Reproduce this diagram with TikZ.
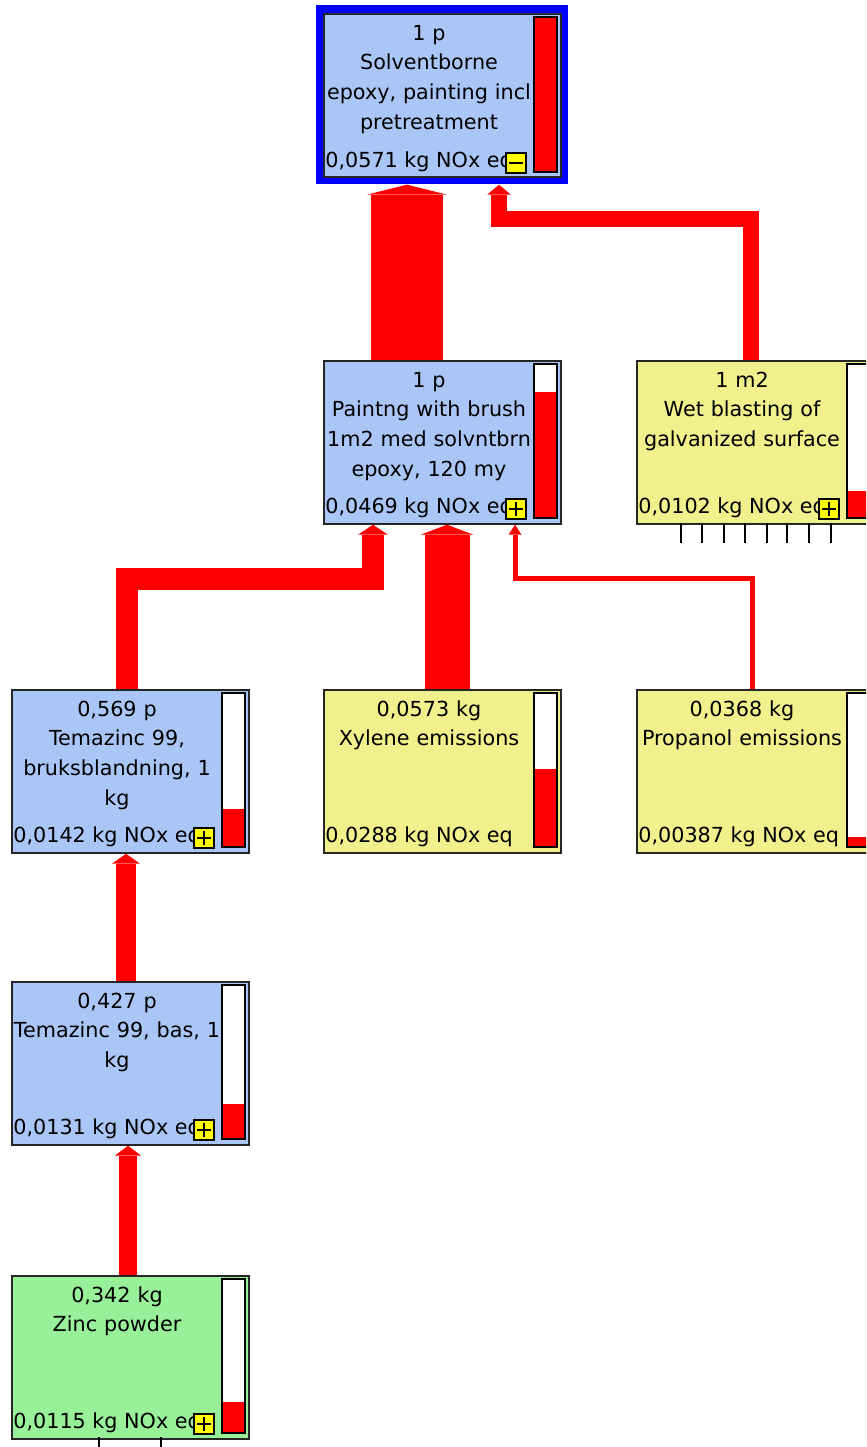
\documentclass[tikz,border=0pt]{standalone}
\usepackage{fontspec}
\setmainfont{DejaVu Sans}
\usetikzlibrary{arrows.meta}

\definecolor{procblue}{RGB}{170,198,246}
\definecolor{procyellow}{RGB}{240,240,140}
\definecolor{procgreen}{RGB}{152,240,152}
\definecolor{btnyellow}{RGB}{255,255,0}

\begin{document}
\begin{tikzpicture}[x=0.02cm, y=-0.02cm,
    proc/.style={draw=black!85, line width=0.035cm, minimum width=4.74cm, minimum height=3.26cm, inner sep=0pt, anchor=north west},
    ttl/.style={font=\fontsize{11.8}{17}\selectfont, align=center, text width=4.6cm, inner sep=0pt, anchor=base},
    score/.style={font=\fontsize{11.8}{17}\selectfont, inner sep=0pt, anchor=base west},
    scorebar/.style={draw=black, fill=white, line width=0.03cm},
    flow/.style={draw=red, -{Triangle[width=0.16cm 1, length=0.2cm 0, line width=0pt]}},
    btn/.style={draw=black, fill=btnyellow, line width=0.025cm, minimum size=0.4cm, inner sep=0pt},
    plusbtn/.style={btn, path picture={\draw[line width=0.9pt]
        ([xshift=1.7pt]path picture bounding box.west) -- ([xshift=-1.7pt]path picture bounding box.east)
        ([yshift=-1.7pt]path picture bounding box.north) -- ([yshift=1.7pt]path picture bounding box.south);}},
    minusbtn/.style={btn, path picture={\draw[line width=0.9pt]
        ([xshift=1.7pt]path picture bounding box.west) -- ([xshift=-1.7pt]path picture bounding box.east);}}
  ]
  \useasboundingbox (0,0) rectangle (866,1447);
  \clip (0,0) rectangle (866,1447);

  % process boxes
  \node[fill=blue, minimum width=5.04cm, minimum height=3.58cm, inner sep=0pt, anchor=north west] (solvframe) at (316,5) {};
  \node[proc, fill=procblue] (solv) at (323,13) {};
  \node[proc, fill=procblue] (paint) at (323,360) {};
  \node[proc, fill=procyellow] (wet) at (636,360) {};
  \node[proc, fill=procblue] (bruks) at (11,689) {};
  \node[proc, fill=procyellow] (xyl) at (323,689) {};
  \node[proc, fill=procyellow] (prop) at (636,689) {};
  \node[proc, fill=procblue] (bas) at (11,981) {};
  \node[proc, fill=procgreen] (zinc) at (11,1275) {};

  % names and scores
  \node[ttl] (solvname) at (429,40) {1 p\\Solventborne\\epoxy, painting incl\\pretreatment};
  \node[score] (solvscore) at (325,167) {0,0571 kg NOx eq};
  \node[ttl] (paintname) at (429,387) {1 p\\Paintng with brush\\1m2 med solvntbrn\\epoxy, 120 my};
  \node[score] (paintscore) at (325,513) {0,0469 kg NOx eq};
  \node[ttl] (wetname) at (742,387) {1 m2\\Wet blasting of\\galvanized surface};
  \node[score] (wetscore) at (638,513) {0,0102 kg NOx eq};
  \node[ttl] (bruksname) at (117,716) {0,569 p\\Temazinc 99,\\bruksblandning, 1\\kg};
  \node[score] (bruksscore) at (13,842) {0,0142 kg NOx eq};
  \node[ttl] (xylname) at (429,716) {0,0573 kg\\Xylene emissions};
  \node[score] (xylscore) at (325,842) {0,0288 kg NOx eq};
  \node[ttl] (propname) at (742,716) {0,0368 kg\\Propanol emissions};
  \node[score] (propscore) at (638,842) {0,00387 kg NOx eq};
  \node[ttl] (basname) at (117,1008) {0,427 p\\Temazinc 99, bas, 1\\kg};
  \node[score] (basscore) at (13,1134) {0,0131 kg NOx eq};
  \node[ttl] (zincname) at (117,1302) {0,342 kg\\Zinc powder};
  \node[score] (zincscore) at (13,1428) {0,0115 kg NOx eq};

  % score bars
  \draw[scorebar] (534,17) rectangle (557,172);
  \fill[red] (535,18) rectangle (556,171);
  \draw[scorebar] (534,364) rectangle (557,518);
  \fill[red] (535,392) rectangle (556,517);
  \draw[scorebar] (847,364) rectangle (870,518);
  \fill[red] (848,491) rectangle (869,517);
  \draw[scorebar] (222,693) rectangle (245,847);
  \fill[red] (223,809) rectangle (244,846);
  \draw[scorebar] (534,693) rectangle (557,847);
  \fill[red] (535,769) rectangle (556,846);
  \draw[scorebar] (847,693) rectangle (870,847);
  \fill[red] (848,837) rectangle (869,846);
  \draw[scorebar] (222,985) rectangle (245,1139);
  \fill[red] (223,1104) rectangle (244,1138);
  \draw[scorebar] (222,1279) rectangle (245,1433);
  \fill[red] (223,1402) rectangle (244,1432);

  % expand buttons
  \node[minusbtn] (solvbtn) at (516,163) {};
  \node[plusbtn] (paintbtn) at (516,509) {};
  \node[plusbtn] (wetbtn) at (829,509) {};
  \node[plusbtn] (bruksbtn) at (204,838) {};
  \node[plusbtn] (basbtn) at (204,1130) {};
  \node[plusbtn] (zincbtn) at (204,1424) {};

  % stubs
  \foreach \x in {681,702,724,745,767,787,809,831}
    \draw[line width=0.03cm] (\x,523) -- (\x,543);
  \draw[line width=0.03cm] (99,1437) -- (99,1447) (161,1437) -- (161,1447);

  % flows
  \draw[flow, line width=1.44cm] (paint.north -| 407,0) -- (solvframe.south -| 407,0);
  \draw[flow, line width=0.31cm] (wet.north -| 751,0) |- (499,219) -- (solvframe.south -| 499,0);
  \draw[flow, line width=0.44cm] (bruks.north -| 127,0) |- (373,579) -- (paint.south -| 373,0);
  \draw[flow, line width=0.9cm] (xyl.north -| 447,0) -- (paint.south -| 447,0);
  \draw[flow, line width=0.1cm] (prop.north -| 752,0) |- (515,578) -- (paint.south -| 515,0);
  \draw[flow, line width=0.4cm] (bas.north -| 126,0) -- (bruks.south -| 126,0);
  \draw[flow, line width=0.37cm] (zinc.north -| 128,0) -- (bas.south -| 128,0);
\end{tikzpicture}
\end{document}
